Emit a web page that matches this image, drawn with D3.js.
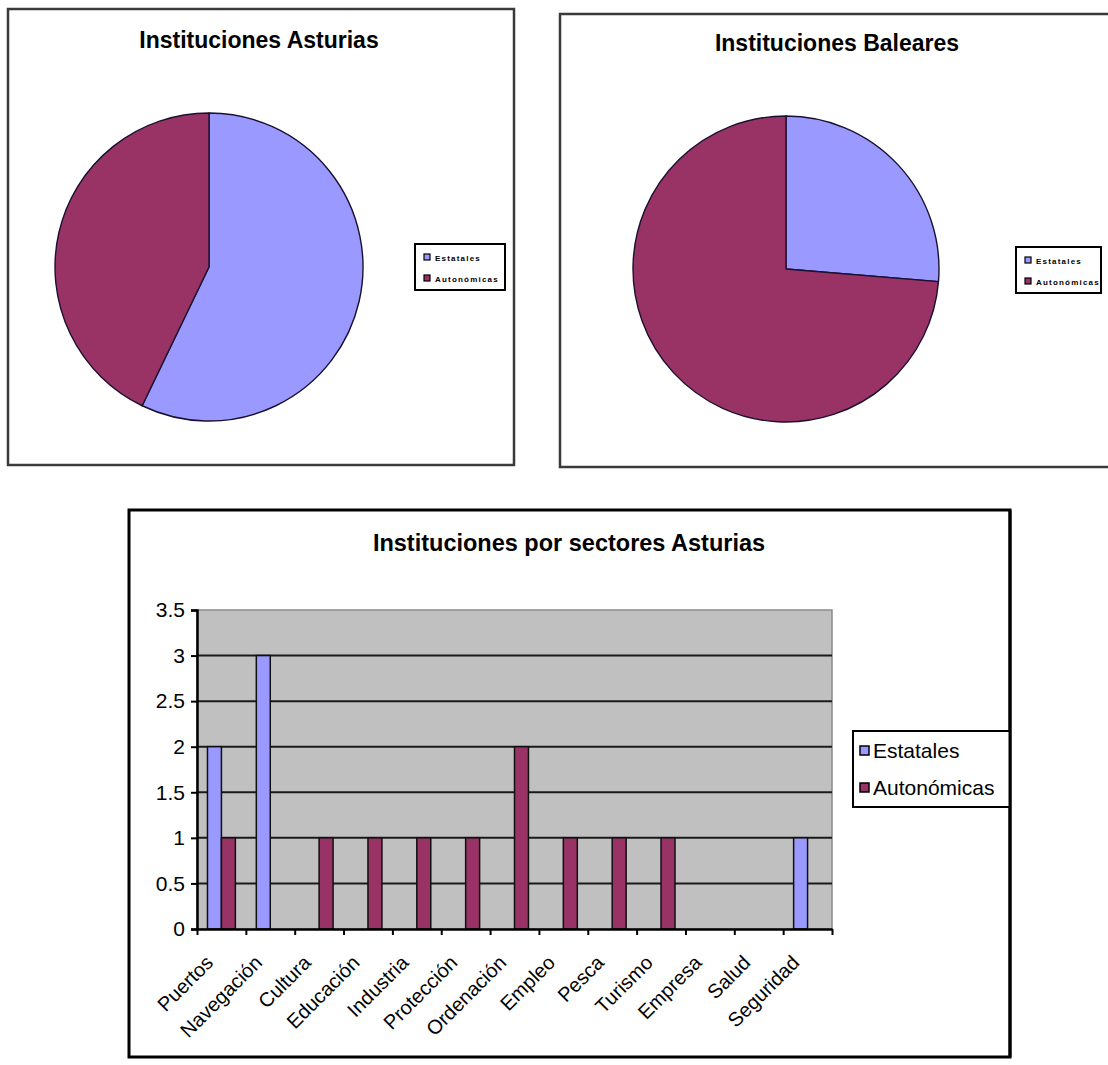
<!DOCTYPE html>
<html lang="es">
<head>
<meta charset="utf-8">
<script src="https://cdn.jsdelivr.net/npm/d3@7"></script>
<style>
    body { margin: 0; background: #fff; }
    svg { display: block; font-family: "Liberation Sans", Arial, sans-serif; }
    .frame { fill: #fff; }
    .title { font-weight: bold; font-size: 23px; fill: #000; text-anchor: middle; }
    .pielegend text { font-size: 8px; font-weight: bold; letter-spacing: 1.2px; }
    .tick text { font-size: 21px; fill: #000; }
</style>
</head>
<body>
<script>

    /* datos */
    var series = ["Estatales", "Autonómicas"];
    var colores = ["#9999FF", "#993366"];

    var pieAsturias = [4, 3];
    var pieBaleares = [5, 14];

    var categorias = ["Puertos", "Navegación", "Cultura", "Educación", "Industria", "Protección",
        "Ordenación", "Empleo", "Pesca", "Turismo", "Empresa", "Salud", "Seguridad"];
    var estatales   = [2, 3, 0, 0, 0, 0, 0, 0, 0, 0, 0, 0, 1];
    var autonomicas = [1, 0, 1, 1, 1, 1, 2, 1, 1, 1, 0, 0, 0];
    var yTicks = [0, 0.5, 1, 1.5, 2, 2.5, 3, 3.5];

    var svg = d3.select("body").append("svg")
            .attr("width", 1108)
            .attr("height", 1065);

    /* ---- tartas ---- */
    function tarta(opts) {
        svg.append("rect")
                .attr("class", "frame")
                .attr("x", opts.frame[0]).attr("y", opts.frame[1])
                .attr("width", opts.frame[2] - opts.frame[0])
                .attr("height", opts.frame[3] - opts.frame[1])
                .style("stroke", "#3a3a3a")
                .style("stroke-width", 2.5);

        svg.append("text")
                .attr("class", "title")
                .attr("x", opts.titleX).attr("y", opts.titleY)
                .text(opts.title);

        var pie = d3.pie().sort(null);
        var arc = d3.arc().innerRadius(0).outerRadius(opts.r);

        var g = svg.append("g")
                .attr("transform", "translate(" + opts.cx + "," + opts.cy + ")");

        g.selectAll("path")
                .data(pie(opts.values))
                .enter()
                .append("path")
                .attr("d", arc)
                .style("fill", function(d, i) { return colores[i]; })
                .style("stroke", "#1a1030")
                .style("stroke-width", 1.4)
                .style("stroke-linejoin", "round");

        /* leyenda pequeña */
        var lg = svg.append("g")
                .attr("class", "pielegend")
                .attr("transform", "translate(" + opts.legend[0] + "," + opts.legend[1] + ")");
        lg.append("rect")
                .attr("width", opts.legend[2]).attr("height", 46)
                .style("fill", "#fff").style("stroke", "#000").style("stroke-width", 2);
        var items = lg.selectAll("g")
                .data(series)
                .enter()
                .append("g")
                .attr("transform", function(d, i) { return "translate(9," + (10 + i * 21) + ")"; });
        items.append("rect")
                .attr("width", 6).attr("height", 6)
                .style("fill", function(d, i) { return colores[i]; })
                .style("stroke", "#000").style("stroke-width", 1.2);
        items.append("text")
                .attr("x", 11).attr("y", 6.5)
                .text(function(d) { return d; });
    }

    tarta({
        frame: [8, 9, 514, 465],
        title: "Instituciones Asturias", titleX: 259, titleY: 48,
        values: pieAsturias, cx: 209, cy: 267, r: 154,
        legend: [415, 244, 90]
    });

    tarta({
        frame: [560, 14, 1120, 467],
        title: "Instituciones Baleares", titleX: 837, titleY: 51,
        values: pieBaleares, cx: 786, cy: 269, r: 153,
        legend: [1016, 247, 85]
    });

    /* ---- barras ---- */
    svg.append("rect")
            .attr("class", "frame")
            .attr("x", 129).attr("y", 510)
            .attr("width", 1010 - 129).attr("height", 1057 - 510)
            .style("stroke", "#000")
            .style("stroke-width", 3);

    svg.append("text")
            .attr("class", "title")
            .attr("x", 569).attr("y", 551)
            .style("font-size", "23.5px")
            .text("Instituciones por sectores Asturias");

    var plot = {left: 197, right: 832, top: 610, bottom: 929};

    var x0 = d3.scaleBand()
            .domain(categorias)
            .range([plot.left, plot.right])
            .padding(0);

    var x1 = d3.scaleBand()
            .domain(series)
            .range([0, x0.bandwidth()])
            .paddingInner(0)
            .paddingOuter(0.75);

    var y = d3.scaleLinear()
            .domain([0, 3.5])
            .range([plot.bottom, plot.top]);

    /* fondo */
    svg.append("rect")
            .attr("x", plot.left).attr("y", plot.top)
            .attr("width", plot.right - plot.left)
            .attr("height", plot.bottom - plot.top)
            .style("fill", "#C0C0C0")
            .style("stroke", "#8a8a8a")
            .style("stroke-width", 1.5);

    /* rejilla */
    svg.append("g")
            .selectAll("line")
            .data(yTicks.filter(function(t) { return t > 0 && t < 3.5; }))
            .enter()
            .append("line")
            .attr("x1", plot.left).attr("x2", plot.right)
            .attr("y1", function(d) { return y(d); })
            .attr("y2", function(d) { return y(d); })
            .style("stroke", "#1a1a1a")
            .style("stroke-width", 2);

    /* barras */
    var filas = categorias.map(function(c, i) {
        return {cat: c, vals: [estatales[i], autonomicas[i]]};
    });

    var grupos = svg.append("g")
            .selectAll("g")
            .data(filas)
            .enter()
            .append("g")
            .attr("transform", function(d) { return "translate(" + x0(d.cat) + ",0)"; });

    grupos.selectAll("rect")
            .data(function(d) {
                return d.vals.map(function(v, i) { return {serie: series[i], v: v, i: i}; })
                        .filter(function(e) { return e.v > 0; });
            })
            .enter()
            .append("rect")
            .attr("x", function(d) { return x1(d.serie); })
            .attr("width", x1.bandwidth())
            .attr("y", function(d) { return y(d.v); })
            .attr("height", function(d) { return y(0) - y(d.v); })
            .style("fill", function(d) { return colores[d.i]; })
            .style("stroke", "#101010")
            .style("stroke-width", 1.5);

    /* eje y */
    var yAxis = svg.append("g")
            .attr("transform", "translate(" + plot.left + ",0)")
            .call(d3.axisLeft(y).tickValues(yTicks).tickSize(6).tickPadding(6)
                    .tickFormat(function(d) { return String(d); }));
    yAxis.select(".domain").style("stroke", "#000").style("stroke-width", 2.5);
    yAxis.selectAll(".tick line").style("stroke", "#000").style("stroke-width", 2);

    /* eje x: marcas en los límites de categoría */
    var xIdx = d3.scaleLinear().domain([0, categorias.length]).range([plot.left, plot.right]);
    var xAxis = svg.append("g")
            .attr("transform", "translate(0," + plot.bottom + ")")
            .call(d3.axisBottom(xIdx).tickValues(d3.range(categorias.length + 1))
                    .tickSize(6).tickSizeOuter(0).tickFormat(""));
    xAxis.select(".domain").style("stroke", "#000").style("stroke-width", 2.5);
    xAxis.selectAll(".tick line").style("stroke", "#000").style("stroke-width", 2);

    /* etiquetas x giradas */
    svg.append("g")
            .selectAll("text")
            .data(categorias)
            .enter()
            .append("text")
            .attr("transform", function(d) {
                return "translate(" + (x0(d) + x0.bandwidth() / 2 - 7) + "," + 964 + ") rotate(-45)";
            })
            .style("text-anchor", "end")
            .style("font-size", "20px")
            .text(function(d) { return d; });

    /* leyenda */
    var leg = svg.append("g")
            .attr("transform", "translate(853,731)");
    leg.append("rect")
            .attr("width", 157).attr("height", 76)
            .style("fill", "#fff").style("stroke", "#000").style("stroke-width", 2);
    var li = leg.selectAll("g")
            .data(series)
            .enter()
            .append("g")
            .attr("transform", function(d, i) { return "translate(7," + (15 + i * 37) + ")"; });
    li.append("rect")
            .attr("width", 9).attr("height", 9)
            .style("fill", function(d, i) { return colores[i]; })
            .style("stroke", "#000").style("stroke-width", 1.5);
    li.append("text")
            .attr("x", 13).attr("y", 12)
            .style("font-size", "21px")
            .text(function(d) { return d; });

    /* borde derecho del marco de barras, encima de la leyenda */
    svg.append("line")
            .attr("x1", 1010).attr("x2", 1010).attr("y1", 510).attr("y2", 1057)
            .style("stroke", "#000").style("stroke-width", 3);

</script>
</body>
</html>
